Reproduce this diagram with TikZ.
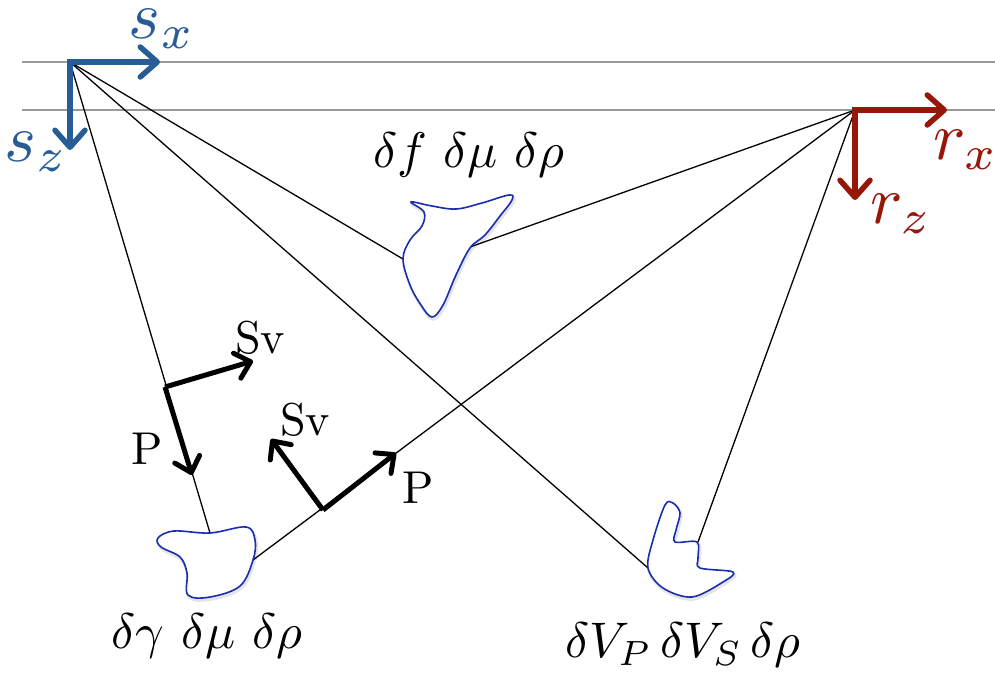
\documentclass[tikz,border=0pt]{standalone}
\usetikzlibrary{arrows.meta}
\definecolor{sblue}{RGB}{40,92,150}
\definecolor{rred}{RGB}{150,22,8}
\definecolor{blobblue}{RGB}{25,45,175}
\begin{document}
\begin{tikzpicture}[x=1pt,y=-1pt,
  ray/.style={black, line width=1.3pt},
  surf/.style={black!40, line width=1.2pt},
  dbarb/.style={{Straight Barb[length=17pt,width=30pt,round]}-{Straight Barb[length=17pt,width=30pt,round]}},
  axisarrow/.style={line width=5.5pt, line join=miter},
  wave/.style={black, line width=5pt, -{Straight Barb[length=14pt,width=26pt,round]}},
  blob/.style={draw=blobblue, line width=1.6pt, fill=white},
  blobshadow/.style={draw=black, opacity=0.10, line width=3.5pt, xshift=1pt, yshift=-2pt},
  glabel/.style={scale=5},
  wlabel/.style={scale=4.6},
  alabel/.style={scale=6.8, inner sep=0pt}]
\useasboundingbox (0,0) rectangle (995,673);
% surfaces
\coordinate (L1a) at (22,62);  \coordinate (L1b) at (995,62);
\coordinate (L2a) at (22,110); \coordinate (L2b) at (995,110);
\draw[surf] (L1a) -- (L1b);
\draw[surf] (L2a) -- (L2b);
% source and receiver
\coordinate (S) at (70,62);
\coordinate (R) at (855,110);
% contact points
\coordinate (Fl) at (403,259);
\coordinate (Fr) at (470,247);
\coordinate (Gt) at (210,533);
\coordinate (Gr) at (253,560);
\coordinate (Vl) at (648,568);
\coordinate (Vt) at (698,542);
% rays
\draw[ray] (S) -- (Fl);
\draw[ray] (S) -- (Gt);
\draw[ray] (S) -- (Vl);
\draw[ray] (R) -- (Fr);
\draw[ray] (R) -- (Gr);
\draw[ray] (R) -- (Vt);
% blobs
\foreach \st in {blobshadow,blob}{
\draw[\st] plot[smooth cycle, tension=0.6] coordinates {(411,202) (432,206) (456,209) (482,203) (509,195) (512,200) (500,216) (485,235) (470,248) (456,275) (443,305) (432,317) (421,305) (410,285) (403,259) (410,240) (422,226) (424,212)};
\draw[\st] plot[smooth cycle, tension=0.6] coordinates {(158,538) (174,531) (210,533) (246,527) (255,540) (253,560) (240,586) (210,597) (188,595) (187,573) (180,557) (161,547)};
\draw[\st] plot[smooth cycle, tension=0.55] coordinates {(665,505) (673,503) (680,513) (676,530) (675,542) (697,542) (698,558) (700,568) (733,572) (723,582) (692,597) (663,588) (648,568) (653,540)};
}
% source axes
\coordinate (Sx) at (160,62);
\coordinate (Sz) at (70,150);
\draw[sblue, axisarrow, dbarb] (Sx) -- (S) -- (Sz);
\node[alabel, text=sblue] (sxl) at (162,29) {$s_x$};
\node[alabel, text=sblue] (szl) at (36,152) {$s_z$};
% receiver axes
\coordinate (Rx) at (947,110);
\coordinate (Rz) at (855,200);
\draw[rred, axisarrow, dbarb] (Rx) -- (R) -- (Rz);
\node[alabel, text=rred] (rxl) at (966,150) {$r_x$};
\node[alabel, text=rred] (rzl) at (901,214) {$r_z$};
% wave polarisations
\coordinate (A) at (165,387);
\coordinate (AP) at (192,475);
\coordinate (AS) at (253,361);
\draw[wave] (A) -- (AP);
\draw[wave] (A) -- (AS);
\coordinate (B) at (323,510);
\coordinate (BP) at (396,453);
\coordinate (BS) at (271,439);
\draw[wave] (B) -- (BP);
\draw[wave] (B) -- (BS);
\node[wlabel] (sv1) at (260,338) {Sv};
\node[wlabel] (p1) at (147,449) {P};
\node[wlabel] (sv2) at (305,420) {Sv};
\node[wlabel] (p2) at (418,488) {P};
% parameter labels
\node[glabel] (lf) at (469,155) {$\delta f\ \delta\mu\ \delta\rho$};
\node[glabel] (lg) at (207,636) {$\delta\gamma\ \delta\mu\ \delta\rho$};
\node[glabel] (lv) at (683,645) {$\delta V_P\, \delta V_S\, \delta\rho$};
\end{tikzpicture}
\end{document}
